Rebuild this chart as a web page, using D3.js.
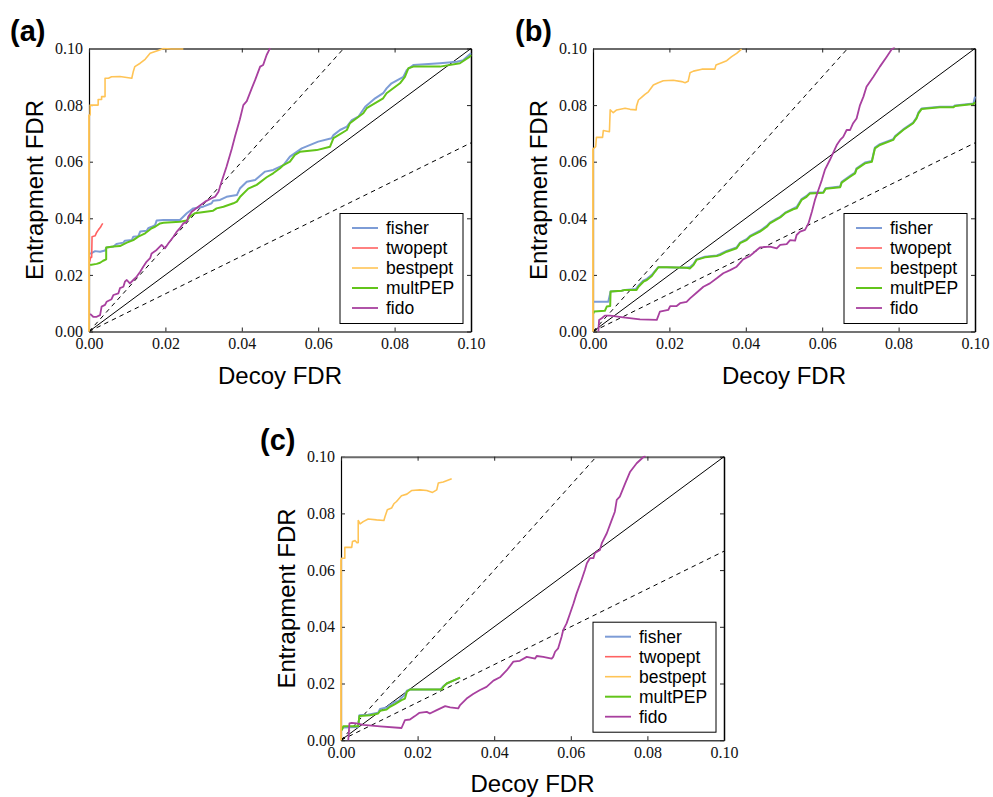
<!DOCTYPE html>
<html><head><meta charset="utf-8">
<script src="https://cdn.jsdelivr.net/npm/d3@7"></script>
<style>
html,body{margin:0;padding:0;background:#fff;}
svg{display:block;}
</style></head>
<body>
<script>
// ---------- DATA ----------
const seriesNames = ["fisher","twopept","bestpept","multPEP","fido"];
const tickValues = [0,0.02,0.04,0.06,0.08,0.10];
const tickLabels = ["0.00","0.02","0.04","0.06","0.08","0.10"];
const refSlopes = [1, 1.5, 2/3];
const panelLabels = ["(a)","(b)","(c)"];
const xTitle = "Decoy FDR";
const yTitle = "Entrapment FDR";

const A_fisher = [[.0003,.0274],[.0016,.0284],[.0029,.0282],[.0042,.0286],[.0046,.0297],[.0064,.0300],[.0072,.0309],[.0090,.0314],[.0094,.0321],[.0112,.0323],[.0116,.0335],[.0129,.0337],[.0134,.0353],[.0151,.0356],[.0155,.0365],[.0164,.0370],[.0173,.0376],[.0177,.0392],[.0195,.0394],[.0238,.0394],[.0256,.0418],[.0273,.0435],[.0299,.0441],[.0321,.0453],[.0325,.0462],[.0343,.0465],[.0360,.0476],[.0387,.0482],[.0395,.0505],[.0413,.0529],[.0435,.0535],[.0461,.0565],[.0482,.0571],[.0509,.0588],[.0526,.0618],[.0557,.0647],[.0600,.0671],[.0635,.0683],[.0640,.0694],[.0657,.0712],[.0675,.0724],[.0688,.0747],[.0705,.0759],[.0723,.0794],[.0749,.0824],[.0770,.0842],[.0779,.0859],[.0792,.0877],[.0823,.0900],[.0832,.0924],[.0849,.0942],[.0919,.0948],[.0963,.0953],[.0980,.0959],[.1,.0983]];
const A_twopept = [[.0002,.0247],[.0004,.0262],[.0007,.0262],[.0008,.0335],[.0016,.0338],[.0020,.0350],[.0025,.0360],[.0030,.0368],[.0033,.0376],[.0036,.0382]];
const A_bestpept = [[0,0],[0,.0765],[.0003,.0765],[.0003,.0800],[.0024,.0800],[.0024,.0820],[.0033,.0820],[.0033,.0830],[.0042,.0830],[.0042,.0895],[.0051,.0895],[.0059,.0900],[.0081,.0901],[.0112,.0895],[.0116,.0919],[.0120,.0936],[.0134,.0948],[.0147,.0962],[.0160,.0983],[.0181,.0993],[.0195,.1000],[.0215,.0998],[.0247,.0998]];
const A_multPEP = [[.0003,.0235],[.0020,.0239],[.0029,.0243],[.0037,.0250],[.0045,.0255],[.0045,.0297],[.0064,.0300],[.0081,.0302],[.0099,.0314],[.0116,.0323],[.0129,.0335],[.0147,.0347],[.0164,.0365],[.0173,.0370],[.0186,.0382],[.0195,.0384],[.0238,.0388],[.0256,.0392],[.0264,.0406],[.0277,.0418],[.0325,.0427],[.0334,.0435],[.0352,.0441],[.0378,.0453],[.0387,.0459],[.0395,.0475],[.0417,.0505],[.0439,.0518],[.0465,.0545],[.0482,.0559],[.0500,.0577],[.0509,.0588],[.0526,.0600],[.0539,.0624],[.0552,.0635],[.0596,.0641],[.0631,.0653],[.0640,.0683],[.0675,.0712],[.0683,.0736],[.0718,.0771],[.0727,.0789],[.0770,.0824],[.0779,.0842],[.0814,.0877],[.0827,.0900],[.0836,.0930],[.0849,.0936],[.0919,.0936],[.0971,.0948],[.0997,.0971],[.1,.0977]];
const A_fido = [[.0003,.0062],[.0011,.0052],[.0020,.0052],[.0029,.0058],[.0033,.0088],[.0042,.0094],[.0046,.0105],[.0059,.0114],[.0064,.0129],[.0077,.0135],[.0081,.0153],[.0090,.0158],[.0094,.0176],[.0099,.0182],[.0107,.0170],[.0116,.0182],[.0125,.0194],[.0134,.0211],[.0142,.0229],[.0151,.0247],[.0160,.0259],[.0164,.0276],[.0177,.0288],[.0190,.0306],[.0199,.0294],[.0208,.0312],[.0221,.0335],[.0230,.0353],[.0238,.0365],[.0247,.0382],[.0256,.0388],[.0260,.0406],[.0269,.0423],[.0286,.0441],[.0304,.0459],[.0321,.0471],[.0330,.0476],[.0339,.0494],[.0347,.0529],[.0360,.0582],[.0374,.0647],[.0382,.0688],[.0395,.0750],[.0404,.0800],[.0413,.0814],[.0426,.0859],[.0435,.0889],[.0448,.0936],[.0456,.0942],[.0465,.0977],[.0474,.1001]];

const B_fisher = [[.0001,.0105],[.0040,.0105],[.0046,.0141],[.0075,.0144],[.0084,.0147],[.0112,.0150],[.0119,.0162],[.0132,.0180],[.0141,.0186],[.0154,.0200],[.0162,.0213],[.0171,.0227],[.0193,.0227],[.0245,.0225],[.0254,.0228],[.0263,.0238],[.0271,.0255],[.0293,.0264],[.0324,.0269],[.0332,.0273],[.0350,.0285],[.0376,.0297],[.0385,.0314],[.0402,.0326],[.0411,.0338],[.0437,.0356],[.0455,.0373],[.0463,.0385],[.0481,.0399],[.0490,.0405],[.0503,.0420],[.0524,.0434],[.0533,.0440],[.0546,.0468],[.0559,.0479],[.0568,.0490],[.0603,.0492],[.0609,.0506],[.0647,.0512],[.0651,.0529],[.0673,.0550],[.0686,.0562],[.0690,.0577],[.0712,.0597],[.0730,.0603],[.0734,.0627],[.0738,.0650],[.0751,.0662],[.0786,.0680],[.0791,.0691],[.0812,.0714],[.0838,.0738],[.0847,.0756],[.0852,.0774],[.0860,.0788],[.0908,.0794],[.0943,.0794],[.0948,.0799],[.0996,.0806],[.1,.0830]];
const B_twopept = [];
const B_bestpept = [[0,0],[0,.0645],[.0002,.0647],[.0007,.0653],[.0009,.0686],[.0025,.0686],[.0027,.0710],[.0043,.0706],[.0045,.0783],[.0053,.0773],[.0062,.0783],[.0084,.0789],[.0097,.0785],[.0113,.0783],[.0114,.0797],[.0119,.0818],[.0127,.0827],[.0136,.0838],[.0145,.0847],[.0158,.0871],[.0171,.0879],[.0184,.0886],[.0210,.0888],[.0232,.0883],[.0241,.0879],[.0249,.0884],[.0254,.0914],[.0263,.0920],[.0285,.0927],[.0319,.0927],[.0322,.0942],[.0337,.0950],[.0350,.0957],[.0363,.0971],[.0376,.0983],[.0389,.0998]];
const B_multPEP = [[.0001,.0064],[.0003,.0071],[.0031,.0073],[.0036,.0088],[.0045,.0090],[.0046,.0141],[.0075,.0144],[.0084,.0147],[.0114,.0147],[.0119,.0158],[.0132,.0176],[.0141,.0182],[.0154,.0196],[.0162,.0211],[.0171,.0227],[.0193,.0227],[.0245,.0225],[.0254,.0223],[.0263,.0235],[.0271,.0253],[.0293,.0262],[.0324,.0267],[.0332,.0270],[.0350,.0282],[.0376,.0294],[.0385,.0312],[.0402,.0323],[.0411,.0335],[.0437,.0353],[.0455,.0370],[.0463,.0382],[.0481,.0396],[.0490,.0403],[.0503,.0418],[.0524,.0432],[.0533,.0435],[.0546,.0465],[.0559,.0476],[.0568,.0488],[.0603,.0490],[.0609,.0504],[.0647,.0510],[.0651,.0526],[.0673,.0547],[.0686,.0559],[.0690,.0574],[.0712,.0594],[.0730,.0600],[.0734,.0624],[.0738,.0647],[.0751,.0659],[.0786,.0677],[.0791,.0688],[.0812,.0712],[.0838,.0736],[.0847,.0753],[.0852,.0771],[.0860,.0786],[.0908,.0792],[.0943,.0792],[.0948,.0797],[.0996,.0804],[.1,.0810]];
const B_fido = [[.0014,0],[.0016,.0041],[.0023,.0047],[.0031,.0056],[.0045,.0056],[.0079,.0050],[.0123,.0043],[.0167,.0041],[.0175,.0070],[.0197,.0076],[.0202,.0090],[.0219,.0090],[.0228,.0100],[.0245,.0105],[.0254,.0117],[.0271,.0137],[.0289,.0158],[.0306,.0170],[.0324,.0188],[.0341,.0206],[.0359,.0217],[.0376,.0229],[.0393,.0255],[.0411,.0267],[.0429,.0288],[.0437,.0297],[.0463,.0300],[.0481,.0294],[.0490,.0306],[.0507,.0309],[.0516,.0323],[.0529,.0321],[.0533,.0341],[.0542,.0353],[.0555,.0359],[.0564,.0382],[.0573,.0423],[.0581,.0465],[.0590,.0500],[.0599,.0535],[.0607,.0571],[.0620,.0606],[.0638,.0659],[.0647,.0677],[.0655,.0688],[.0664,.0712],[.0673,.0712],[.0681,.0736],[.0690,.0753],[.0699,.0800],[.0708,.0830],[.0716,.0865],[.0734,.0900],[.0751,.0936],[.0769,.0971],[.0782,.0997],[.0790,.1005]];

const C_fisher = [[.0002,.0040],[.0006,.0045],[.0045,.0047],[.0048,.0088],[.0070,.0090],[.0097,.0097],[.0102,.0110],[.0119,.0115],[.0128,.0124],[.0141,.0135],[.0150,.0138],[.0158,.0150],[.0167,.0160],[.0172,.0175],[.0180,.0179],[.0260,.0179],[.0267,.0190],[.0276,.0200],[.0293,.0210],[.0311,.0221]];
const C_twopept = [];
const C_bestpept = [[0,0],[0,.0636],[.0002,.0642],[.0010,.0642],[.0010,.0680],[.0028,.0680],[.0030,.0701],[.0037,.0704],[.0041,.0697],[.0045,.0697],[.0045,.0775],[.0050,.0763],[.0058,.0771],[.0071,.0780],[.0093,.0777],[.0112,.0775],[.0115,.0789],[.0121,.0813],[.0132,.0819],[.0138,.0834],[.0145,.0842],[.0158,.0862],[.0172,.0868],[.0185,.0881],[.0206,.0883],[.0224,.0881],[.0239,.0874],[.0250,.0883],[.0254,.0907],[.0267,.0911],[.0289,.0922]];
const C_multPEP = [[.0002,.0035],[.0006,.0049],[.0032,.0049],[.0045,.0049],[.0048,.0085],[.0076,.0088],[.0097,.0094],[.0102,.0104],[.0119,.0108],[.0128,.0118],[.0141,.0127],[.0158,.0141],[.0167,.0147],[.0172,.0171],[.0180,.0179],[.0263,.0179],[.0267,.0188],[.0276,.0200],[.0293,.0210],[.0311,.0221]];
const C_fido = [[.0019,0],[.0022,.0059],[.0028,.0061],[.0041,.0059],[.0058,.0054],[.0102,.0049],[.0158,.0043],[.0167,.0071],[.0180,.0073],[.0193,.0085],[.0204,.0096],[.0224,.0100],[.0232,.0094],[.0250,.0106],[.0272,.0120],[.0285,.0116],[.0306,.0112],[.0311,.0124],[.0328,.0147],[.0345,.0163],[.0363,.0177],[.0380,.0188],[.0398,.0210],[.0415,.0222],[.0433,.0247],[.0450,.0277],[.0467,.0280],[.0485,.0294],[.0507,.0288],[.0511,.0297],[.0528,.0294],[.0550,.0288],[.0554,.0294],[.0559,.0312],[.0567,.0324],[.0576,.0365],[.0580,.0388],[.0589,.0412],[.0598,.0447],[.0607,.0482],[.0615,.0517],[.0628,.0565],[.0637,.0601],[.0642,.0624],[.0650,.0642],[.0659,.0642],[.0663,.0660],[.0676,.0671],[.0681,.0695],[.0694,.0730],[.0707,.0777],[.0715,.0806],[.0720,.0848],[.0728,.0859],[.0742,.0906],[.0755,.0947],[.0772,.0977],[.0789,.0998],[.0795,.1003]];

// ---------- STYLE / LAYOUT ----------
const colors = {fisher:"#7d9cd6", twopept:"#ff6262", bestpept:"#ffc456", multPEP:"#62c41a", fido:"#a8409f"};
const widths = {fisher:2, twopept:1.6, bestpept:1.6, multPEP:2, fido:1.8};
const panels = [
  {label:panelLabels[0], left:89, top:48.5, width:382, height:283, data:{fisher:A_fisher, twopept:A_twopept, bestpept:A_bestpept, multPEP:A_multPEP, fido:A_fido}, lx:10, ly:41},
  {label:panelLabels[1], left:593, top:48.5, width:382, height:283, data:{fisher:B_fisher, twopept:B_twopept, bestpept:B_bestpept, multPEP:B_multPEP, fido:B_fido}, lx:515, ly:41},
  {label:panelLabels[2], left:341, top:456.7, width:383, height:283.5, data:{fisher:C_fisher, twopept:C_twopept, bestpept:C_bestpept, multPEP:C_multPEP, fido:C_fido}, lx:260, ly:450}
];

const svg = d3.select("body").append("svg").attr("width",993).attr("height",797);
const drawOrder = ["fisher","twopept","bestpept","multPEP","fido"];

panels.forEach((p,pi)=>{
  const x = d3.scaleLinear().domain([0,0.1]).range([0,p.width]);
  const y = d3.scaleLinear().domain([0,0.1]).range([p.height,0]);
  const g = svg.append("g").attr("transform",`translate(${p.left},${p.top})`);

  const clipId = "clip"+pi;
  g.append("clipPath").attr("id",clipId).append("rect")
    .attr("x",-1).attr("y",-1).attr("width",p.width+2).attr("height",p.height+2);

  const plot = g.append("g").attr("clip-path",`url(#${clipId})`);
  refSlopes.forEach(s=>{
    const pts = s>=1 ? [[0,0],[0.1/s,0.1]] : [[0,0],[0.1,0.1*s]];
    plot.append("path")
      .attr("d", d3.line().x(d=>x(d[0])).y(d=>y(d[1]))(pts))
      .attr("fill","none").attr("stroke","#000")
      .attr("stroke-width", 1)
      .attr("stroke-dasharray", s===1 ? null : "4.5,4");
  });
  const line = d3.line().x(d=>x(d[0])).y(d=>y(d[1]));
  drawOrder.forEach(name=>{
    const data = p.data[name];
    if(!data.length) return;
    plot.append("path").attr("d",line(data))
      .attr("fill","none").attr("stroke",colors[name])
      .attr("stroke-width",widths[name]).attr("stroke-linejoin","round");
  });

  const fmt = (d)=>tickLabels[tickValues.indexOf(d)];
  const axB = g.append("g").attr("transform",`translate(0,${p.height})`)
    .call(d3.axisBottom(x).tickValues(tickValues).tickFormat(fmt).tickSize(-4).tickSizeOuter(0).tickPadding(6));
  const axL = g.append("g")
    .call(d3.axisLeft(y).tickValues(tickValues).tickFormat(fmt).tickSize(-4).tickSizeOuter(0).tickPadding(6));
  const axT = g.append("g")
    .call(d3.axisTop(x).tickValues(tickValues).tickFormat("").tickSize(-4).tickSizeOuter(0));
  const axR = g.append("g").attr("transform",`translate(${p.width},0)`)
    .call(d3.axisRight(y).tickValues(tickValues).tickFormat("").tickSize(-4).tickSizeOuter(0));
  [axB,axL,axT,axR].forEach(a=>{
    a.attr("font-family","'Liberation Serif','Times New Roman',serif").attr("font-size",16);
    a.selectAll("text").attr("font-family","'Liberation Serif','Times New Roman',serif").attr("font-size",16).attr("fill","#111");
    a.selectAll(".tick line").attr("stroke","#222").attr("stroke-width",1);
  });
  axL.select(".domain").attr("stroke","#000").attr("stroke-width",1.2);
  axR.select(".domain").attr("stroke","#000").attr("stroke-width",1.5);
  axT.select(".domain").attr("stroke","#6a6a6a").attr("stroke-width",2);
  axB.select(".domain").attr("stroke","#444").attr("stroke-width",1.6);

  const bp = p.data.bestpept;
  if(bp.length){
    plot.append("path").attr("d",line(bp.slice(0,2)))
      .attr("stroke",colors.bestpept).attr("stroke-width",1.6).attr("fill","none");
    g.node().appendChild(plot.node());
  }

  const lw = 123, lh = 110;
  const lg = g.append("g").attr("transform",`translate(${p.width-8-lw},${p.height-8-lh})`);
  lg.append("rect").attr("width",lw).attr("height",lh).attr("fill","#fff").attr("stroke","#000").attr("stroke-width",1);
  seriesNames.forEach((name,i)=>{
    const yy = 14.5 + i*20;
    lg.append("line").attr("x1",12).attr("x2",38).attr("y1",yy).attr("y2",yy)
      .attr("stroke",colors[name]).attr("stroke-width",widths[name]);
    lg.append("text").attr("x",46).attr("y",yy).attr("dy","0.35em")
      .attr("font-family","'Liberation Sans',Arial,sans-serif").attr("font-size",17.5).attr("fill","#000")
      .text(name);
  });

  g.append("text").attr("x",p.width/2).attr("y",p.height+52).attr("text-anchor","middle")
    .attr("font-family","'Liberation Sans',Arial,sans-serif").attr("font-size",24).attr("fill","#000").text(xTitle);
  g.append("text").attr("transform",`translate(-46,${p.height/2}) rotate(-90)`).attr("text-anchor","middle")
    .attr("font-family","'Liberation Sans',Arial,sans-serif").attr("font-size",24).attr("fill","#000").text(yTitle);

  svg.append("text").attr("x",p.lx).attr("y",p.ly)
    .attr("font-family","'Liberation Sans',Arial,sans-serif").attr("font-weight","bold").attr("font-size",29).attr("fill","#000")
    .text(p.label);
});
</script>
</body></html>
